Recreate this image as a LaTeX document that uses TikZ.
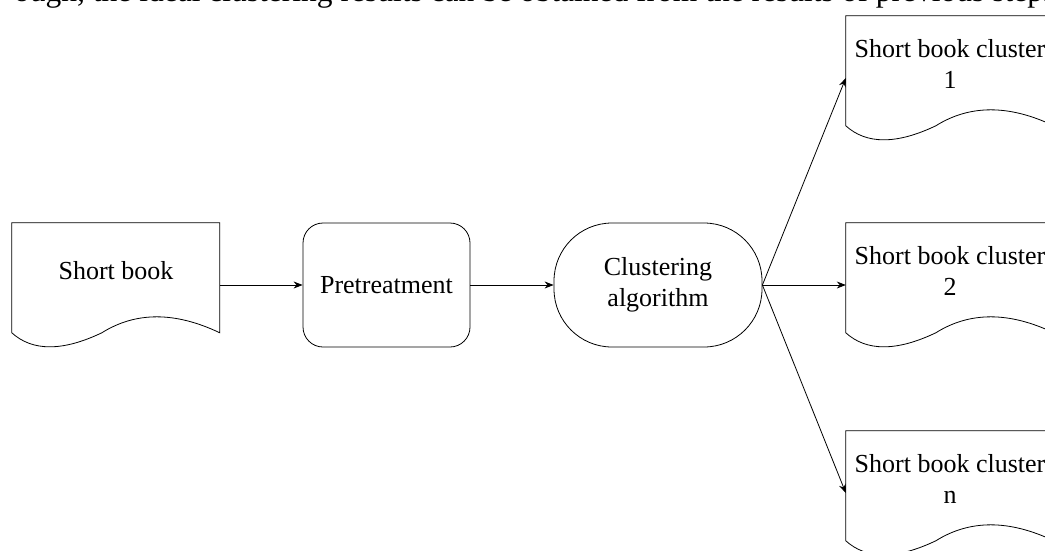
\documentclass[tikz,border=0pt]{standalone}
\usepackage{fontspec}
\setmainfont{Liberation Serif}
\usetikzlibrary{arrows.meta}

\tikzset{
  every picture/.style={x=1pt,y=-1pt},
  outline/.style={draw=black, line width=0.8pt},
  docframe/.style={rectangle, minimum width=208pt, minimum height=124pt, inner sep=0pt},
  doctext/.style={font=\fontsize{26}{31}\selectfont, align=center, inner sep=0pt},
  procbox/.style={outline, rectangle, rounded corners=20pt, minimum width=167pt,
    minimum height=124pt, font=\fontsize{26}{31}\selectfont, align=center},
  termbox/.style={outline, rectangle, rounded corners=58pt, minimum width=208pt,
    minimum height=124pt, font=\fontsize{26}{31}\selectfont, align=center},
  flow/.style={draw=black, line width=0.8pt, -{Stealth[length=9pt,width=7pt]}}
}

% document shape: name, left, top, text
\newcommand\docbox[4]{%
  \node[docframe] (#1) at (#2+104, #3+62) {};
  \draw[outline, shift={(#1.north west)}]
    (0,0) -- (208,0) -- (208,110)
    .. controls (163.3,88.7) and (124,88.7) .. (90,110)
    .. controls (50.7,128.7) and (20.7,128.7) .. (0,110) -- cycle;
  \node[doctext] (#1-t) at ([yshift=14pt]#1.center) {#4};
}

\begin{document}
\begin{tikzpicture}
  \useasboundingbox (0,0) rectangle (1045,550);
  \clip (0,0) rectangle (1045,550);

  % last line of the running text above the figure
  \node[anchor=base west, inner sep=0pt, font=\fontsize{31.5}{36}\selectfont] (bodyline)
    at (14,1.5) {ough, the ideal clustering results can be obtained from the results of previous steps};

  \docbox{sb}{12}{223}{Short book}
  \node[procbox] (pre) at (386.5,285) {Pretreatment};
  \node[termbox] (ca) at (658,285) {Clustering\\algorithm};

  \docbox{c1}{846}{16}{Short book cluster\\1}
  \docbox{c2}{846}{223}{Short book cluster\\2}
  \docbox{cn}{846}{431}{Short book cluster\\n}

  \draw[flow] (sb.east) -- (pre.west);
  \draw[flow] (pre.east) -- (ca.west);
  \draw[flow] (ca.east) -- (c1.west);
  \draw[flow] (ca.east) -- (c2.west);
  \draw[flow] (ca.east) -- (cn.west);
\end{tikzpicture}
\end{document}
